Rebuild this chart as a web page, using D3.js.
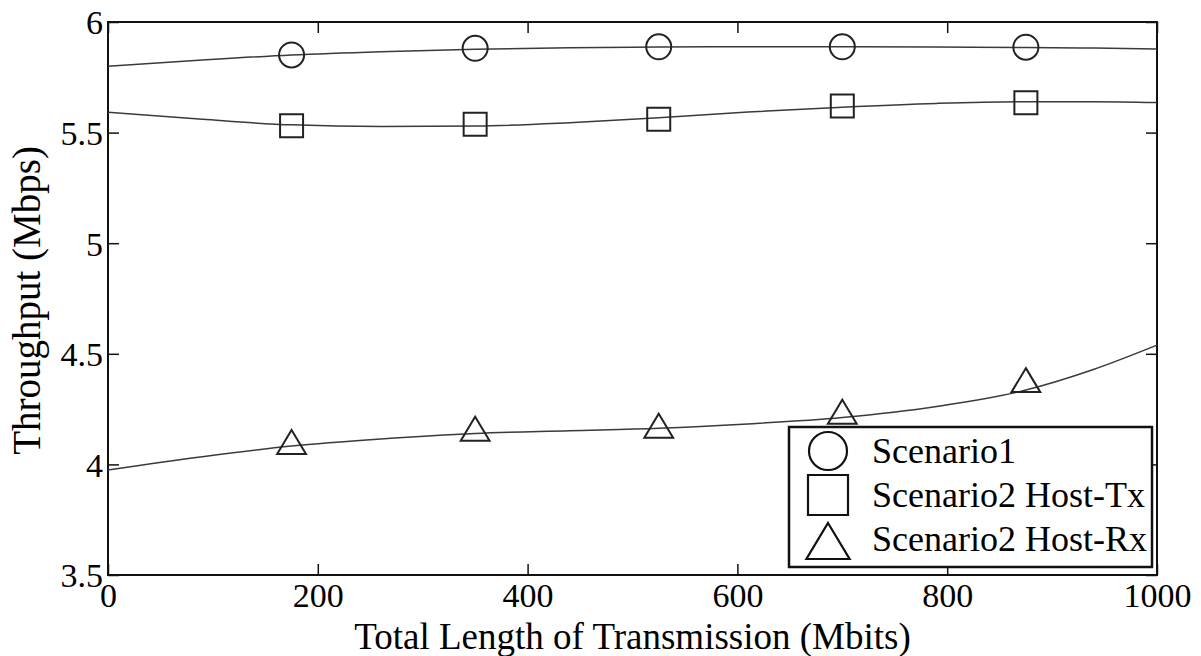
<!DOCTYPE html>
<html>
<head>
<meta charset="utf-8">
<script src="https://cdn.jsdelivr.net/npm/d3@7/dist/d3.min.js"></script>
<style>
  html, body { margin: 0; padding: 0; background: #fff; }
  svg { display: block; }
  svg text { font-family: "Liberation Serif", "Times New Roman", Times, serif; fill: #000; }
</style>
</head>
<body>
<svg id="chart" width="1201" height="656"></svg>
<script>
// ---- data ----
const seriesNames = ["Scenario1", "Scenario2 Host-Tx", "Scenario2 Host-Rx"];
const markerX = [175, 350, 525, 700, 875];
const scenario1 = [5.851, 5.881, 5.888, 5.888, 5.886];
const hostTx    = [5.531, 5.538, 5.560, 5.620, 5.635];
const hostRx    = [4.101, 4.161, 4.175, 4.238, 4.381];

// fitted curves
const fitX         = [0, 90, 175, 260, 350, 440, 525, 610, 700, 790, 875, 940, 1000];
const scenario1Fit = [5.800, 5.828, 5.851, 5.866, 5.877, 5.884, 5.887, 5.888, 5.888, 5.887, 5.885, 5.882, 5.878];
const hostTxFit    = [5.592, 5.560, 5.535, 5.528, 5.530, 5.545, 5.567, 5.593, 5.615, 5.632, 5.640, 5.640, 5.636];
const hostRxFit    = [3.975, 4.035, 4.083, 4.115, 4.140, 4.152, 4.163, 4.183, 4.212, 4.262, 4.336, 4.430, 4.539];

const xTicks = [0, 200, 400, 600, 800, 1000];
const yTicks = [3.5, 4, 4.5, 5, 5.5, 6];
const xTitle = "Total Length of Transmission (Mbits)";
const yTitle = "Throughput (Mbps)";

// ---- layout ----
const FONT = '"Liberation Serif", "Times New Roman", Times, serif';
const svg = d3.select("#chart");
const L = 108, R = 1157, T = 22, B = 575;
const x = d3.scaleLinear().domain([0, 1000]).range([L, R]);
const y = d3.scaleLinear().domain([3.5, 6]).range([B, T]);
const tickLen = 11;
const tickFont = 34;

// frame
svg.append("rect").attr("x", L).attr("y", T).attr("width", R - L).attr("height", B - T)
  .attr("fill", "none").attr("stroke", "#111").attr("stroke-width", 2);

// axes with inward ticks on all four sides
const fmt = d => String(d);
const gx = svg.append("g").attr("transform", `translate(0,${B})`)
  .call(d3.axisBottom(x).tickValues(xTicks).tickSize(-tickLen).tickPadding(8).tickFormat(fmt));
const gxt = svg.append("g").attr("transform", `translate(0,${T})`)
  .call(d3.axisTop(x).tickValues(xTicks).tickSize(-tickLen).tickFormat(""));
const gy = svg.append("g").attr("transform", `translate(${L},0)`)
  .call(d3.axisLeft(y).tickValues(yTicks).tickSize(-tickLen).tickPadding(5).tickFormat(fmt));
const gyr = svg.append("g").attr("transform", `translate(${R},0)`)
  .call(d3.axisRight(y).tickValues(yTicks).tickSize(-tickLen).tickFormat(""));
[gx, gxt, gy, gyr].forEach(g => {
  g.attr("font-family", FONT);
  g.select(".domain").remove();
  g.selectAll(".tick line").attr("stroke", "#111").attr("stroke-width", 1.5);
  g.selectAll("text").attr("font-size", tickFont).attr("font-family", FONT).attr("fill", "#000");
});
gx.selectAll(".tick text").attr("dy", "0.71em");
gy.selectAll(".tick text").attr("dy", "0.35em");

// axis titles
svg.append("text").attr("x", (L + R) / 2).attr("y", 649).attr("text-anchor", "middle")
  .attr("font-family", FONT).attr("font-size", 37).text(xTitle);
svg.append("text").attr("transform", `translate(40,${(T + B) / 2 + 2}) rotate(-90)`)
  .attr("text-anchor", "middle").attr("font-family", FONT).attr("font-size", 39).text(yTitle);

// curves
const line = d3.line().x(d => x(d[0])).y(d => y(d[1])).curve(d3.curveMonotoneX);
const fits = [scenario1Fit, hostTxFit, hostRxFit];
fits.forEach(f => {
  svg.append("path").datum(fitX.map((v, i) => [v, f[i]]))
    .attr("d", line).attr("fill", "none").attr("stroke", "#3a3a3a").attr("stroke-width", 1.5);
});

// marker shapes
function markerPath(kind, cx, cy, s) {
  if (kind === "circle") {
    const r = s / 2;
    return `M${cx - r},${cy}a${r},${r} 0 1,0 ${2 * r},0a${r},${r} 0 1,0 ${-2 * r},0Z`;
  }
  if (kind === "square") {
    const h = s / 2;
    return `M${cx - h},${cy - h}h${s}v${s}h${-s}Z`;
  }
  const w = s * 0.6, h = s / 2;
  return `M${cx},${cy - h}L${cx + w},${cy + h}L${cx - w},${cy + h}Z`;
}
const kinds = ["circle", "square", "triangle"];
const sizes = [25, 23, 24];
const values = [scenario1, hostTx, hostRx];
values.forEach((vals, si) => {
  svg.append("g").selectAll("path").data(markerX.map((v, i) => [v, vals[i]])).join("path")
    .attr("d", d => markerPath(kinds[si], x(d[0]), y(d[1]), sizes[si]))
    .attr("fill", "none").attr("stroke", "#222").attr("stroke-width", 2);
});

// legend
const lg = svg.append("g");
lg.append("rect").attr("x", 789).attr("y", 427).attr("width", 363).attr("height", 140)
  .attr("fill", "#fff").attr("stroke", "#111").attr("stroke-width", 2.5);
const legendRows = [451, 495, 541];
const legendSizes = [38, 40, 36];
const legendTextY = [463, 507, 551];
seriesNames.forEach((name, i) => {
  lg.append("path").attr("d", markerPath(kinds[i], 828, legendRows[i], legendSizes[i]))
    .attr("fill", "none").attr("stroke", "#111").attr("stroke-width", 2.2);
  lg.append("text").attr("x", 872).attr("y", legendTextY[i]).attr("font-family", FONT)
    .attr("font-size", 36).text(name);
});
</script>
</body>
</html>
